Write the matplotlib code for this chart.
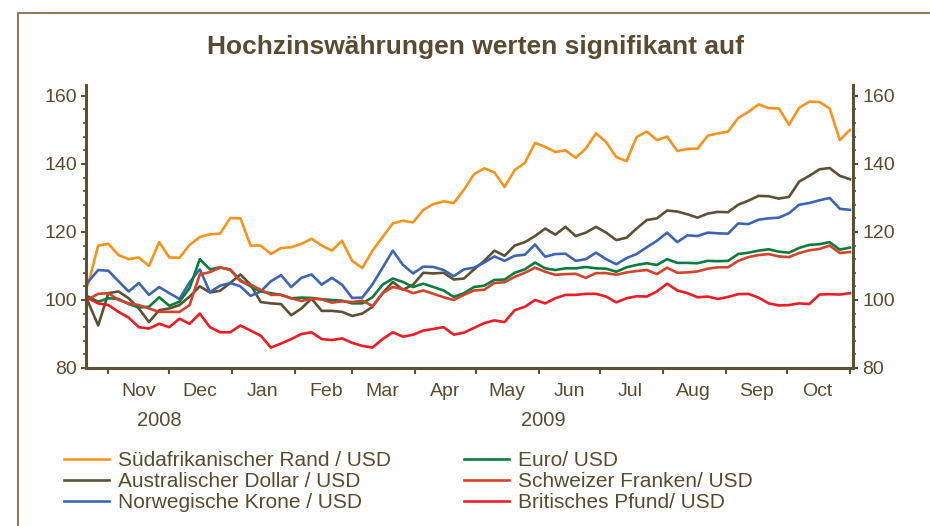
import numpy as np
import pandas as pd
import matplotlib
matplotlib.use("Agg")
import matplotlib.pyplot as plt
import matplotlib.dates as mdates
from matplotlib.patches import Rectangle
from matplotlib.ticker import FixedLocator, MultipleLocator, NullFormatter
from matplotlib.transforms import blended_transform_factory

plt.rcParams['font.family'] = ['Liberation Sans', 'DejaVu Sans']

# indexed series, 5-day steps
dates = pd.date_range('2008-10-22', periods=76, freq='5D')

zar = [104.5, 116, 116.5, 113.2, 112, 112.5, 110, 117, 112.5, 112.4,
       116.2, 118.5, 119.3, 119.5, 124.1, 124, 116, 116, 113.5, 115.3,
       115.5, 116.5, 118, 116, 114.5, 117.4, 111.5, 109.4, 114.5, 118.5,
       122.5, 123.3, 122.8, 126.5, 128.2, 129, 128.5, 132.4, 137, 138.7,
       137.5, 133.2, 138.2, 140.3, 146.2, 145, 143.5, 144, 141.8, 144.5,
       149, 146.4, 142, 140.8, 147.9, 149.5, 147, 148, 143.8, 144.4,
       144.5, 148.3, 149, 149.5, 153.5, 155.3, 157.5, 156.4, 156.3, 151.5,
       156.5, 158.3, 158.2, 156.3, 147, 150]
aud = [99.5, 92.5, 102, 102.5, 100.5, 97.5, 93.5, 97, 97.5, 98.5,
       101, 104, 102.2, 102.7, 105, 107.5, 104.5, 99.4, 99, 98.8,
       95.5, 97.5, 100.4, 96.8, 96.8, 96.5, 95.3, 96, 98, 102,
       105.3, 103, 104.5, 108, 107.8, 108, 106, 106.3, 109, 111.5,
       114.5, 113, 116, 117, 118.8, 121, 119.2, 121.5, 118.8, 119.8,
       121.5, 119.8, 117.6, 118.3, 121, 123.5, 124, 126.3, 126, 125.2,
       124.2, 125.4, 125.9, 125.8, 128, 129.2, 130.6, 130.5, 129.8, 130.3,
       134.8, 136.5, 138.4, 138.8, 136.5, 135.5]
nok = [105.3, 108.8, 108.6, 105.5, 102.5, 105, 101.5, 103.8, 102, 100.3,
       105.2, 109, 102.3, 104.2, 105, 104, 101.2, 102.5, 105.5, 107.3,
       103.8, 106.5, 107.5, 104.5, 106.5, 104.5, 100.6, 100.7, 104.6, 109.5,
       114.5, 110.3, 107.8, 109.8, 109.7, 108.8, 107, 109, 109.5, 111,
       112.8, 111.5, 113, 113.3, 116.3, 112.7, 113.5, 113.6, 111.5, 112,
       113.9, 112, 110.5, 112.3, 113.5, 115.5, 117.4, 119.8, 117, 119,
       118.8, 119.8, 119.6, 119.5, 122.5, 122.3, 123.6, 124, 124.2, 125.5,
       128, 128.5, 129.3, 130, 126.8, 126.5]
eur = [101, 99.5, 100.5, 100.3, 98.8, 97.8, 98, 100.8, 98.3, 99.5,
       103.5, 112, 109, 109.6, 108.8, 105.8, 104, 102.5, 102, 101.5,
       100.5, 100.7, 100.6, 100.2, 100, 99.8, 99, 99, 100.8, 104.5,
       106.3, 105.3, 103.8, 104.8, 103.8, 102.8, 100.9, 102, 103.8, 104.2,
       105.9, 106, 108, 109, 111, 109.3, 108.8, 109.3, 109.3, 109.7,
       109.3, 109.2, 108.3, 109.6, 110.3, 110.8, 110.3, 112, 110.9, 110.9,
       110.8, 111.5, 111.4, 111.5, 113.5, 113.9, 114.5, 114.9, 114.2, 113.9,
       115.3, 116.2, 116.4, 117, 114.8, 115.4]
chf = [100.2, 101.8, 102, 100, 99, 98.5, 97.5, 96.5, 96.5, 96.5,
       98.5, 107.5, 108.2, 109.5, 109, 105.5, 104.5, 103, 101.5, 101.5,
       100.5, 99.7, 100.4, 100.2, 99.2, 99.6, 99.4, 99.8, 98.2, 102,
       103.8, 103.2, 102, 102.8, 101.8, 100.8, 100, 101.5, 102.8, 103,
       105, 105.2, 106.8, 108, 109.5, 108.3, 107.4, 107.6, 107.7, 106.5,
       107.9, 107.9, 107.4, 108.1, 108.5, 108.8, 107.6, 109.5, 108, 108.1,
       108.4, 109.2, 109.6, 109.6, 111.5, 112.6, 113.2, 113.5, 112.8, 112.6,
       113.8, 114.6, 115, 116, 113.8, 114.1]
gbp = [100.5, 99, 98.5, 96.5, 94.8, 92, 91.6, 93, 92, 94.5,
       93, 96, 92, 90.5, 90.5, 92.5, 91, 89.5, 86, 87.2,
       88.5, 90, 90.5, 88.5, 88.2, 88.7, 87.4, 86.5, 86, 88.5,
       90.5, 89.2, 89.8, 91, 91.5, 92, 89.8, 90.4, 91.8, 93.2,
       94, 93.5, 97, 98, 100, 99, 100.5, 101.5, 101.5, 101.8,
       101.8, 101, 99.3, 100.5, 101.1, 101, 102.5, 104.8, 102.8, 102,
       100.8, 101, 100.3, 100.9, 101.7, 101.8, 100.7, 99, 98.4, 98.5,
       99, 98.8, 101.6, 101.7, 101.6, 102]

series = [
    ('Südafrikanischer Rand / USD', zar, '#f7941e'),
    ('Australischer Dollar / USD', aud, '#5e5034'),
    ('Norwegische Krone / USD', nok, '#3d65b4'),
    ('Euro/ USD', eur, '#0a7d3c'),
    ('Schweizer Franken/ USD', chf, '#d4432b'),
    ('Britisches Pfund/ USD', gbp, '#ee1c25'),
]

month_labels = ['Nov', 'Dec', 'Jan', 'Feb', 'Mar', 'Apr', 'May', 'Jun',
                'Jul', 'Aug', 'Sep', 'Oct']
year_labels = [('2008', '2008-11-26'), ('2009', '2009-06-03')]

txt = '#5a4b30'
axc = '#5b4f35'

fig = plt.figure(figsize=(9.3, 5.26), dpi=100)
ax = fig.add_axes([86 / 930, 1 - 368 / 526, (853 - 86) / 930, (368 - 85) / 526])

for name, vals, col in series:
    ax.plot(dates, vals, color=col, lw=1.9, label=name, solid_joinstyle='round')

ax.set_xlim(pd.Timestamp('2008-10-21'), pd.Timestamp('2009-11-02 12:00'))
ax.set_ylim(80, 163.2)

month_starts = pd.date_range('2008-11-01', '2009-11-01', freq='MS')
mids = [d + pd.Timedelta(days=15) for d in pd.date_range('2008-11-01', periods=12, freq='MS')]
ax.xaxis.set_major_locator(FixedLocator(mdates.date2num(month_starts)))
ax.xaxis.set_major_formatter(NullFormatter())
ax.xaxis.set_minor_locator(FixedLocator(mdates.date2num(mids)))
ax.set_xticklabels(month_labels, minor=True)
ax.tick_params(axis='x', which='major', direction='out', length=4.5, width=1.5, color=axc)
ax.tick_params(axis='x', which='minor', length=0, pad=11, labelsize=14, labelcolor=txt)

ax.set_yticks([80, 100, 120, 140, 160])
ax.yaxis.set_minor_locator(MultipleLocator(4))
ax.tick_params(axis='y', which='both', direction='out', left=True, right=True,
               labelleft=True, labelright=True, color=axc, labelcolor=txt, labelsize=14)
ax.tick_params(axis='y', which='major', length=3.5, width=1.5, pad=3)
ax.tick_params(axis='y', which='minor', length=2.2, width=1.2)

for s in ['left', 'right', 'bottom']:
    ax.spines[s].set_color(axc)
    ax.spines[s].set_linewidth(2.2)
ax.spines['top'].set_visible(False)

tr = blended_transform_factory(ax.transData, ax.transAxes)
for lab, d in year_labels:
    ax.text(mdates.date2num(pd.Timestamp(d)), -0.187, lab, transform=tr,
            ha='center', va='center', fontsize=14.5, color=txt)

fig.text(475 / 930, 1 - 47 / 526, 'Hochzinswährungen werten signifikant auf',
         ha='center', va='center', fontsize=19, weight='bold', color=txt)

fig.legend(loc='upper left', bbox_to_anchor=(64 / 930, 1 - 451 / 526), ncol=2,
           frameon=False, fontsize=15, labelcolor=txt, handlelength=2.16,
           handletextpad=0.43, columnspacing=3.5, labelspacing=0.1,
           borderpad=0, borderaxespad=0)

fig.add_artist(Rectangle((18 / 930, -0.1), 1.2, 1.1 - 13 / 526, fill=False,
                         edgecolor='#8c7d5e', lw=1.5, transform=fig.transFigure))

fig.savefig('out.png', dpi=100)
